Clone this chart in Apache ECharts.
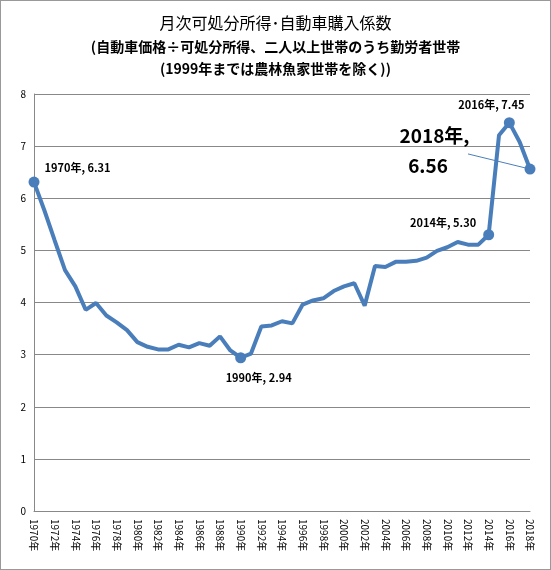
<!DOCTYPE html>
<html>
<head>
<meta charset="utf-8">
<script src="https://cdn.jsdelivr.net/npm/echarts@6/dist/echarts.min.js"></script>
<style>
html,body{margin:0;padding:0;background:#fff;}
#main{width:549px;height:568px;border:1px solid #999;}
</style>
</head>
<body>
<div id="main"></div>
<script>
var years = [];
for (var y = 1970; y <= 2018; y++) years.push(y + '年');

var values = [6.31, 5.77, 5.19, 4.62, 4.31, 3.86, 3.99, 3.75, 3.62, 3.47,
    3.24, 3.15, 3.10, 3.10, 3.19, 3.14, 3.22, 3.17, 3.35, 3.08,
    2.94, 3.02, 3.54, 3.56, 3.64, 3.60, 3.96, 4.04, 4.08, 4.22,
    4.31, 4.37, 3.94, 4.70, 4.68, 4.78, 4.78, 4.80, 4.86, 4.99,
    5.06, 5.16, 5.11, 5.11, 5.30, 7.21, 7.45, 7.08, 6.56];

// 注釈を付ける点
var notes = {
    '1970年': { position: 'right', offset: [0, -14] },
    '1990年': { position: 'bottom', offset: [18, 4] },
    '2014年': { position: 'left', offset: [-2, -12] },
    '2016年': { position: 'top', offset: [-18, -2] }
};

var seriesData = values.map(function (v, i) {
    var yr = years[i];
    if (notes[yr]) {
        return {
            value: v,
            symbolSize: 11,
            label: {
                show: true,
                position: notes[yr].position,
                offset: notes[yr].offset,
                formatter: yr + ', ' + v.toFixed(2),
                fontSize: 11,
                fontWeight: 'bold',
                color: '#000'
            }
        };
    }
    if (yr === '2018年') {
        return {
            value: v,
            symbolSize: 11,
            label: {
                show: true,
                position: 'left',
                offset: [-120, -18],
                align: 'left',
                formatter: yr + ',\n  ' + v.toFixed(2),
                fontSize: 19,
                fontWeight: 'bold',
                lineHeight: 30,
                color: '#000'
            }
        };
    }
    return { value: v, symbolSize: 0 };
});

var chart = echarts.init(document.getElementById('main'));
chart.setOption({
    animation: false,
    textStyle: { fontFamily: 'Noto Sans CJK JP, sans-serif' },
    title: {
        left: 'center',
        top: 9,
        itemGap: 5,
        text: '月次可処分所得･自動車購入係数',
        subtext: '(自動車価格÷可処分所得、二人以上世帯のうち勤労者世帯\n(1999年までは農林魚家世帯を除く))',
        textStyle: { fontSize: 16, fontWeight: 'normal', color: '#000' },
        subtextStyle: { fontSize: 14, fontWeight: 'bold', color: '#000', lineHeight: 22, align: 'center' }
    },
    grid: { left: 33, right: 20, top: 93, bottom: 58 },
    xAxis: {
        type: 'category',
        data: years,
        boundaryGap: false,
        axisLine: { lineStyle: { color: '#888' } },
        axisTick: { show: false },
        axisLabel: { interval: 1, rotate: -90, fontSize: 10, color: '#000', margin: 8 }
    },
    yAxis: {
        type: 'value',
        min: 0, max: 8, interval: 1,
        axisLine: { show: true, lineStyle: { color: '#888' } },
        axisLabel: { fontSize: 10, color: '#000' },
        splitLine: { lineStyle: { color: '#888' } }
    },
    series: [{
        type: 'line',
        data: seriesData,
        symbol: 'circle',
        itemStyle: { color: '#4A7EBB' },
        lineStyle: { color: '#4A7EBB', width: 4 },
        markLine: {
            silent: true,
            symbol: 'none',
            label: { show: false },
            lineStyle: { color: '#4A7EBB', width: 1, type: 'solid' },
            data: [[{ coord: ['2012年', 6.85] }, { coord: ['2018年', 6.56] }]]
        }
    }]
});
</script>
</body>
</html>
